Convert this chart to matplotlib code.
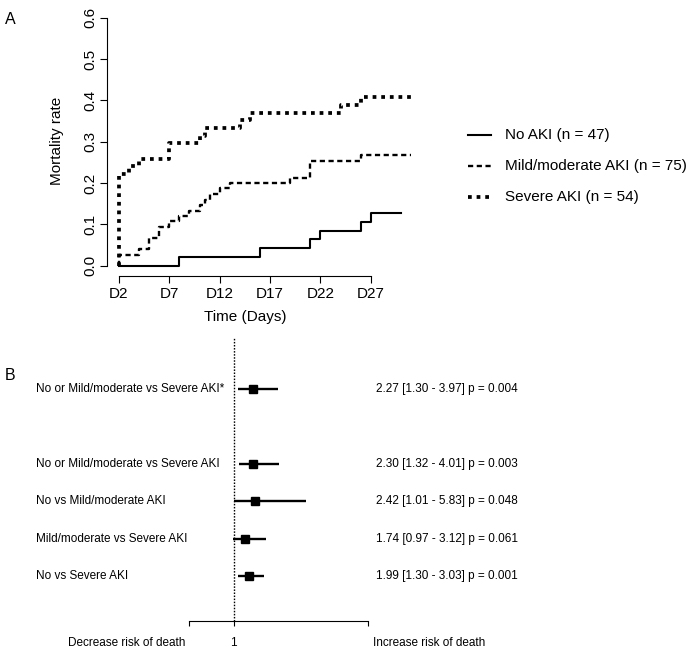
import matplotlib
matplotlib.use('Agg')
import matplotlib.pyplot as plt
from matplotlib.transforms import blended_transform_factory

plt.rcParams['font.family'] = ['Liberation Sans', 'DejaVu Sans']

# ---------------- data: panel A (Kaplan-Meier style mortality) ----------------
days_no = [2, 8, 16, 21, 22, 26, 27, 30]
rate_no = [0.0, 0.021, 0.043, 0.064, 0.085, 0.106, 0.128, 0.128]

days_mild = [2, 2, 4, 5, 6, 7, 8, 9, 10, 10.5, 11, 12, 13, 19, 21, 26, 31]
rate_mild = [0.0, 0.027, 0.040, 0.067, 0.093, 0.107, 0.120, 0.133, 0.147, 0.160,
             0.173, 0.187, 0.200, 0.213, 0.253, 0.267, 0.267]

days_sev = [2, 2, 3, 4, 7, 10, 10.5, 14, 15, 24, 26, 31]
rate_sev = [0.0, 0.222, 0.241, 0.259, 0.296, 0.315, 0.333, 0.352, 0.370, 0.389,
            0.407, 0.407]

legend_labels = ["No AKI (n = 47)", "Mild/moderate AKI (n = 75)", "Severe AKI (n = 54)"]
xtick_days = [2, 7, 12, 17, 22, 27]
xtick_labels = ["D2", "D7", "D12", "D17", "D22", "D27"]
ytick_vals = [0.0, 0.1, 0.2, 0.3, 0.4, 0.5, 0.6]

# ---------------- data: panel B (forest plot) ----------------
comparisons = ["No or Mild/moderate vs Severe AKI*",
               "No or Mild/moderate vs Severe AKI",
               "No vs Mild/moderate AKI",
               "Mild/moderate vs Severe AKI",
               "No vs Severe AKI"]
hr = [2.27, 2.30, 2.42, 1.74, 1.99]
ci_low = [1.30, 1.32, 1.01, 0.97, 1.30]
ci_high = [3.97, 4.01, 5.83, 3.12, 3.03]
pvals = ["0.004", "0.003", "0.048", "0.061", "0.001"]
row_pos = [6, 4, 3, 2, 1]

B_SIZE = 8.5
bfont = dict(fontsize=B_SIZE)

W, H = 698, 654
fig = plt.figure(figsize=(W / 100, H / 100), dpi=100)


def fbox(l, t, r, b):
    return [l / W, 1 - b / H, (r - l) / W, (b - t) / H]


# overlay in pixel coordinates for free text
ov = fig.add_axes([0, 0, 1, 1])
ov.set_xlim(0, W)
ov.set_ylim(H, 0)
ov.axis('off')

# ---------------- Panel A ----------------
axA = fig.add_axes(fbox(107.3, 7.8, 422.7, 275.6))
axA.set_xlim(0.84, 32.16)
axA.set_ylim(-0.024, 0.624)
axA.patch.set_alpha(0)

axA.step(days_no, rate_no, where='post', color='black', lw=1.5)
axA.step(days_mild, rate_mild, where='post', color='black', lw=1.7,
         linestyle=(0, (2.2, 1.5)), dash_capstyle='butt')
axA.step(days_sev, rate_sev, where='post', color='black', lw=2.7,
         linestyle=(0, (1.0, 1.3)), dash_capstyle='butt')

for s in ['top', 'right']:
    axA.spines[s].set_visible(False)
axA.spines['left'].set_bounds(0, 0.6)
axA.spines['bottom'].set_bounds(2, 27)
for s in ['left', 'bottom']:
    axA.spines[s].set_linewidth(0.8)

axA.set_xticks(xtick_days)
axA.set_xticklabels(xtick_labels)
axA.set_yticks(ytick_vals)
axA.set_yticklabels([f"{v:.1f}" for v in ytick_vals], rotation=90, va='center')
axA.tick_params(axis='both', direction='out', length=5, width=0.8, labelsize=11)
axA.tick_params(axis='x', pad=3)
axA.tick_params(axis='y', pad=2)

ov.text(245, 317, "Time (Days)", ha='center', va='center', fontsize=11)
ov.text(56.7, 141, "Mortality rate", ha='center', va='center', rotation=90, fontsize=11)
ov.text(10, 19, "A", ha='center', va='center', fontsize=11.5)

# legend drawn manually
leg_y = [135, 166, 197]
styles = [dict(lw=1.5, linestyle='-'),
          dict(lw=1.7, linestyle=(0, (2.2, 1.5)), dash_capstyle='butt'),
          dict(lw=2.7, linestyle=(0, (1.0, 1.3)), dash_capstyle='butt')]
for y, lab, st in zip(leg_y, legend_labels, styles):
    ov.plot([468, 491], [y, y], color='black', **st)
    ov.text(505, y, lab, ha='left', va='center', fontsize=11)

# ---------------- Panel B ----------------
axB = fig.add_axes(fbox(189, 333.5, 368.3, 620.7))
axB.set_xlim(-2, 10)
axB.set_ylim(-0.2, 7.5)
axB.patch.set_alpha(0)
for s in ['top', 'right', 'left']:
    axB.spines[s].set_visible(False)
axB.spines['bottom'].set_linewidth(0.8)
axB.set_yticks([])
axB.set_xticks([-2, 1, 10])
axB.set_xticklabels(['', '1', ''])
axB.tick_params(axis='x', direction='out', length=3.5, width=0.8, labelsize=B_SIZE, pad=8)

axB.vlines(1, -0.2, 7.375, colors='black', lw=1.0, linestyles=(0, (1.1, 1.1)))
axB.hlines(row_pos, ci_low, ci_high, colors='black', lw=1.7)
axB.plot(hr, row_pos, 's', color='black', ms=5.5, linestyle='none')

tr = blended_transform_factory(ov.transData, axB.transData)
for y, lab, h, lo, hi, p in zip(row_pos, comparisons, hr, ci_low, ci_high, pvals):
    axB.text(36, y, lab, transform=tr, ha='left', va='center', **bfont)
    axB.text(376, y, f"{h:.2f} [{lo:.2f} - {hi:.2f}] p = {p}", transform=tr,
             ha='left', va='center', **bfont)

ov.text(10, 375, "B", ha='center', va='center', fontsize=11.5)
ov.text(126.3, 642.7, "Decrease risk of death", ha='center', va='center', **bfont)
ov.text(373.3, 642.7, "Increase risk of death", ha='left', va='center', **bfont)

fig.savefig("out.png", dpi=100)
